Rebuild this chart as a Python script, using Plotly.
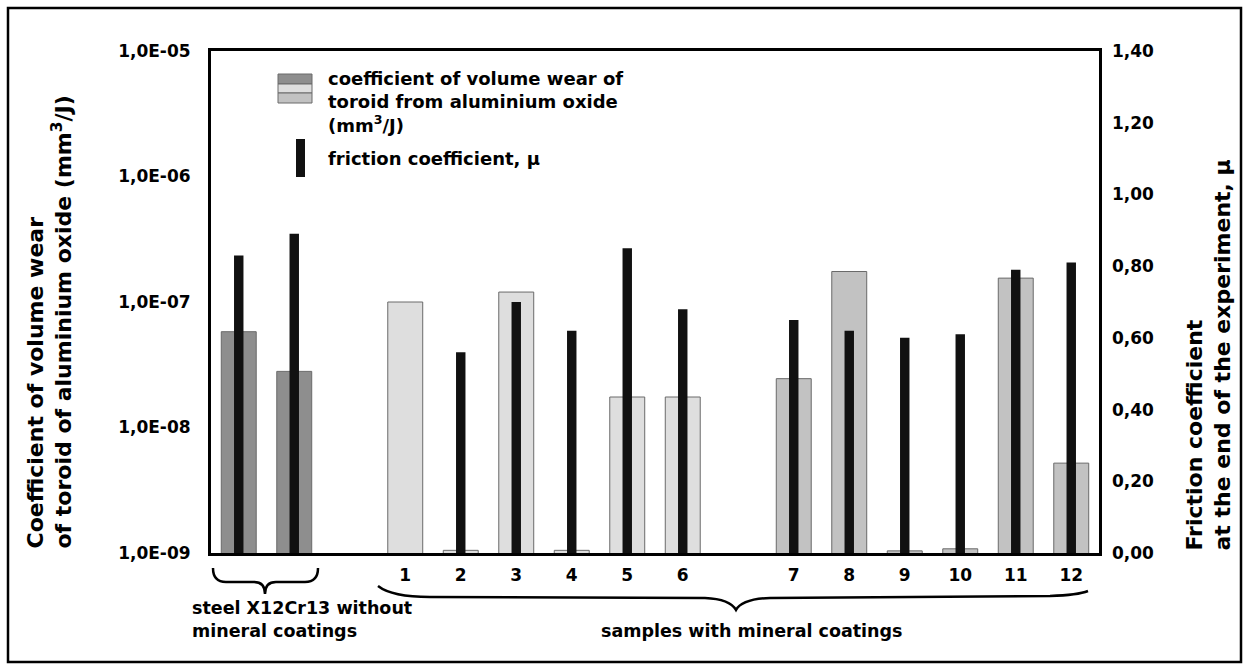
import math
import plotly.graph_objects as go

# ---------------- data ----------------
categories = ["steel A", "steel B", "gap 1",
              "1", "2", "3", "4", "5", "6", "gap 2",
              "7", "8", "9", "10", "11", "12"]
tick_labels = ["", "", "",
               "1", "2", "3", "4", "5", "6", "",
               "7", "8", "9", "10", "11", "12"]
groups = ["steel", "steel", None,
          "coat A", "coat A", "coat A", "coat A", "coat A", "coat A", None,
          "coat B", "coat B", "coat B", "coat B", "coat B", "coat B"]
# coefficient of volume wear of toroid (mm3/J), left log axis
wear = [5.8e-8, 2.8e-8, None,
        1.0e-7, 1.05e-9, 1.2e-7, 1.05e-9, 1.75e-8, 1.75e-8, None,
        2.45e-8, 1.75e-7, 1.04e-9, 1.08e-9, 1.55e-7, 5.2e-9]
# friction coefficient at the end of the experiment, right axis
friction = [0.83, 0.89, None,
            None, 0.56, 0.70, 0.62, 0.85, 0.68, None,
            0.65, 0.62, 0.60, 0.61, 0.79, 0.81]

left_tickvals = [1e-9, 1e-8, 1e-7, 1e-6, 1e-5]
left_ticktext = ["1,0E-09", "1,0E-08", "1,0E-07", "1,0E-06", "1,0E-05"]
right_tickvals = [0, 0.2, 0.4, 0.6, 0.8, 1.0, 1.2, 1.4]
right_ticktext = ["0,00", "0,20", "0,40", "0,60", "0,80", "1,00", "1,20", "1,40"]

# ---------------- styles ----------------
group_colors = {"steel": "#8e8e8e", "coat A": "#dedede", "coat B": "#c2c2c2", None: "#ffffff"}
FONT = "DejaVu Sans"
W, H = 1246, 664
ML, MR, MT, MB = 211, 147, 51, 111
PW, PH = W - ML - MR, H - MT - MB


def px(x):
    return (x - ML) / PW


def py(y):
    return (H - MB - y) / PH


fig = go.Figure()
fig.add_trace(go.Bar(
    x=categories, y=wear, yaxis="y",
    marker=dict(color=[group_colors[g] for g in groups],
                line=dict(color="#6a6a6a", width=1)),
    width=0.63, showlegend=False, hoverinfo="x+y",
))
fig.add_trace(go.Bar(
    x=categories, y=friction, yaxis="y2",
    marker=dict(color="#111111", line=dict(width=0)),
    width=0.17, showlegend=False, hoverinfo="x+y",
))

bold = dict(family=FONT, color="black", weight="bold")
shown_ticks = [(c, t) for c, t in zip(categories, tick_labels) if t]

fig.update_layout(
    width=W, height=H,
    margin=dict(l=ML, r=MR, t=MT, b=MB),
    paper_bgcolor="white", plot_bgcolor="white",
    barmode="overlay",
    xaxis=dict(type="category", categoryorder="array", categoryarray=categories,
               tickvals=[c for c, _ in shown_ticks], ticktext=[t for _, t in shown_ticks],
               range=[-0.5, len(categories) - 0.5],
               showgrid=False, ticks="", showline=True, mirror=True,
               linecolor="black", linewidth=3, ticklabelstandoff=5,
               tickfont=dict(size=17, **bold)),
    yaxis=dict(type="log", range=[-9, -5], tickvals=left_tickvals, ticktext=left_ticktext,
               showgrid=False, ticks="", showline=True, mirror=True,
               linecolor="black", linewidth=3, ticklabelstandoff=14,
               tickfont=dict(size=17, **bold), zeroline=False),
    yaxis2=dict(overlaying="y", side="right", range=[0, 1.4],
                tickvals=right_tickvals, ticktext=right_ticktext,
                showgrid=False, ticks="", showline=False, zeroline=False,
                ticklabelstandoff=12, tickfont=dict(size=17, **bold)),
)

shapes = []
# gridlines drawn above bars
for v in left_tickvals[1:-1]:
    shapes.append(dict(type="line", xref="paper", x0=0, x1=1, yref="y",
                       y0=math.log10(v), y1=math.log10(v),
                       line=dict(color="#8a8a8a", width=2.5), layer="above"))

# legend swatches
shapes += [
    dict(type="rect", xref="paper", yref="paper", x0=px(278), x1=px(312), y0=py(84), y1=py(74),
         fillcolor=group_colors["steel"], line=dict(color="#6a6a6a", width=1), layer="above"),
    dict(type="rect", xref="paper", yref="paper", x0=px(278), x1=px(312), y0=py(93), y1=py(84),
         fillcolor=group_colors["coat A"], line=dict(color="#6a6a6a", width=1), layer="above"),
    dict(type="rect", xref="paper", yref="paper", x0=px(278), x1=px(312), y0=py(103), y1=py(93),
         fillcolor=group_colors["coat B"], line=dict(color="#6a6a6a", width=1), layer="above"),
    dict(type="rect", xref="paper", yref="paper", x0=px(296), x1=px(305), y0=py(177), y1=py(139),
         fillcolor="#111111", line=dict(width=0), layer="above"),
]


def path(points_cmds):
    out = []
    for cmd, pts in points_cmds:
        coords = " ".join(f"{px(x):.5f},{py(y):.5f}" for x, y in pts)
        out.append(f"{cmd} {coords}")
    return " ".join(out)


# steel bracket
steel_brace = path([
    ("M", [(213, 568)]), ("Q", [(213, 582), (226, 582)]), ("L", [(254, 582)]),
    ("Q", [(265, 582), (265, 594)]), ("Q", [(265, 582), (276, 582)]),
    ("L", [(305, 582)]), ("Q", [(318, 582), (318, 568)]),
])
samples_brace = path([
    ("M", [(378, 586)]), ("Q", [(392, 597), (430, 597)]), ("L", [(705, 598)]),
    ("Q", [(730, 599), (736, 610)]), ("Q", [(742, 599), (770, 598)]),
    ("L", [(1050, 596)]), ("Q", [(1078, 595), (1088, 591)]),
])
for p in (steel_brace, samples_brace):
    shapes.append(dict(type="path", xref="paper", yref="paper", path=p,
                       line=dict(color="black", width=2.5)))

# outer frame
shapes.append(dict(type="rect", xref="paper", yref="paper",
                   x0=px(8), x1=px(1241), y0=py(662), y1=py(8),
                   line=dict(color="black", width=2.5), fillcolor="rgba(0,0,0,0)"))

fig.update_layout(shapes=shapes)

ann = []
ann.append(dict(xref="paper", yref="paper", x=px(326), y=py(66), xanchor="left", yanchor="top",
                text="coefficient of volume wear of<br>toroid from aluminium oxide<br>(mm<sup>3</sup>/J)",
                align="left", showarrow=False, font=dict(size=18, **bold)))
ann.append(dict(xref="paper", yref="paper", x=px(326), y=py(158), xanchor="left", yanchor="middle",
                text="friction coefficient, μ", align="left", showarrow=False,
                font=dict(size=18, **bold)))
ann.append(dict(xref="paper", yref="paper", x=px(190), y=py(596), xanchor="left", yanchor="top",
                text="steel X12Cr13 without<br>mineral coatings", align="left", showarrow=False,
                font=dict(size=17.5, **bold)))
ann.append(dict(xref="paper", yref="paper", x=px(752), y=py(631), xanchor="center", yanchor="middle",
                text="samples with mineral coatings", align="center", showarrow=False,
                font=dict(size=17.5, **bold)))
ann.append(dict(xref="paper", yref="paper", x=px(49), y=py(551), xanchor="center", yanchor="bottom",
                text="Coefficient of volume wear<br>of toroid of aluminium oxide (mm<sup>3</sup>/J)",
                textangle=-90, align="left", showarrow=False, font=dict(size=22, **bold)))
ann.append(dict(xref="paper", yref="paper", x=px(1208), y=py(553), xanchor="center", yanchor="bottom",
                text="Friction coefficient<br>at the end of the experiment, μ",
                textangle=-90, align="left", showarrow=False, font=dict(size=22, **bold)))
fig.update_layout(annotations=ann)

fig.write_html("out.html", config={"displayModeBar": False},
               post_script="document.body.style.margin='0px';")
